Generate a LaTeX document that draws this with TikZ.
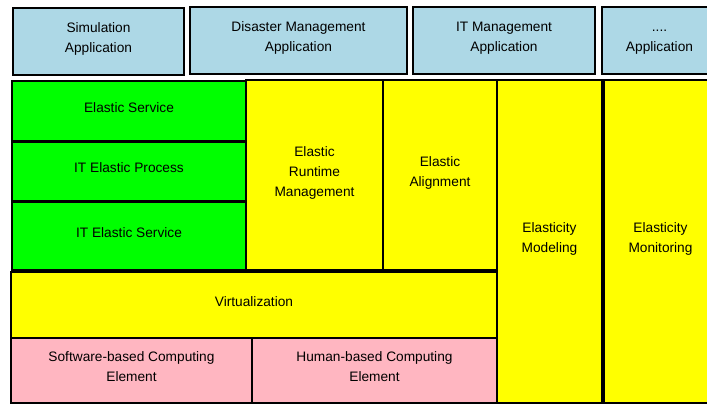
\documentclass[tikz,border=0pt]{standalone}
\usepackage{fontspec}
\setmainfont{Liberation Sans}
\definecolor{appblue}{HTML}{ADD8E6}
\definecolor{elgreen}{HTML}{00FF00}
\definecolor{elyellow}{HTML}{FFFF00}
\definecolor{elpink}{HTML}{FFB6C1}
\begin{document}
\begin{tikzpicture}[x=1pt,y=-1pt,
  layer/.style={draw=black,line width=2.5pt,inner sep=0pt,align=center,
    font=\fontsize{13.7}{20}\selectfont,
    execute at end node={\rule[-7.5pt]{0pt}{7.5pt}}},
  appbox/.style={layer,fill=appblue},
  svcbox/.style={layer,fill=elgreen},
  mgmtbox/.style={layer,fill=elyellow},
  resbox/.style={layer,fill=elpink,line width=2pt}]
\useasboundingbox (0,0) rectangle (707,404);
\clip (0,0) rectangle (707,404);
% applications
\node[appbox,minimum width=171pt,minimum height=67pt] (sim) at (98.5,41.5) {Simulation\\Application};
\node[appbox,minimum width=217pt,minimum height=67pt] (dis) at (298.5,40.5) {Disaster Management\\Application};
\node[appbox,minimum width=182pt,minimum height=67pt] (itm) at (504,40.5) {IT Management\\Application};
\node[appbox,minimum width=115pt,minimum height=67pt] (etc) at (659.5,40.5) {\vphantom{Sl}....\\Application};
% elastic services
\node[svcbox,minimum width=234pt,minimum height=60pt] (es) at (129,111) {Elastic Service};
\node[svcbox,minimum width=234pt,minimum height=59pt] (itep) at (129,171.5) {IT Elastic Process};
\node[svcbox,minimum width=234pt,minimum height=68pt] (ites) at (129,236) {IT Elastic Service};
% runtime
\node[mgmtbox,minimum width=137pt,minimum height=190pt] (erm) at (314.5,175) {Elastic\\Runtime\\Management};
\node[mgmtbox,minimum width=114pt,minimum height=190pt] (eal) at (440,175) {Elastic\\Alignment};
\node[mgmtbox,minimum width=486pt,minimum height=66pt] (virt) at (254,305) {Virtualization};
% computing elements
\node[resbox,minimum width=241pt,minimum height=65pt] (swc) at (131.5,370.5) {Software-based Computing\\Element};
\node[resbox,minimum width=245pt,minimum height=65pt] (hbc) at (374.5,370.5) {Human-based Computing\\Element};
% cross-cutting
\node[mgmtbox,minimum width=105pt,minimum height=323pt] (emod) at (549.5,241.5) {Elasticity\\Modeling};
\node[mgmtbox,minimum width=113pt,minimum height=323pt] (emon) at (660.5,241.5) {Elasticity\\Monitoring};
\end{tikzpicture}
\end{document}
